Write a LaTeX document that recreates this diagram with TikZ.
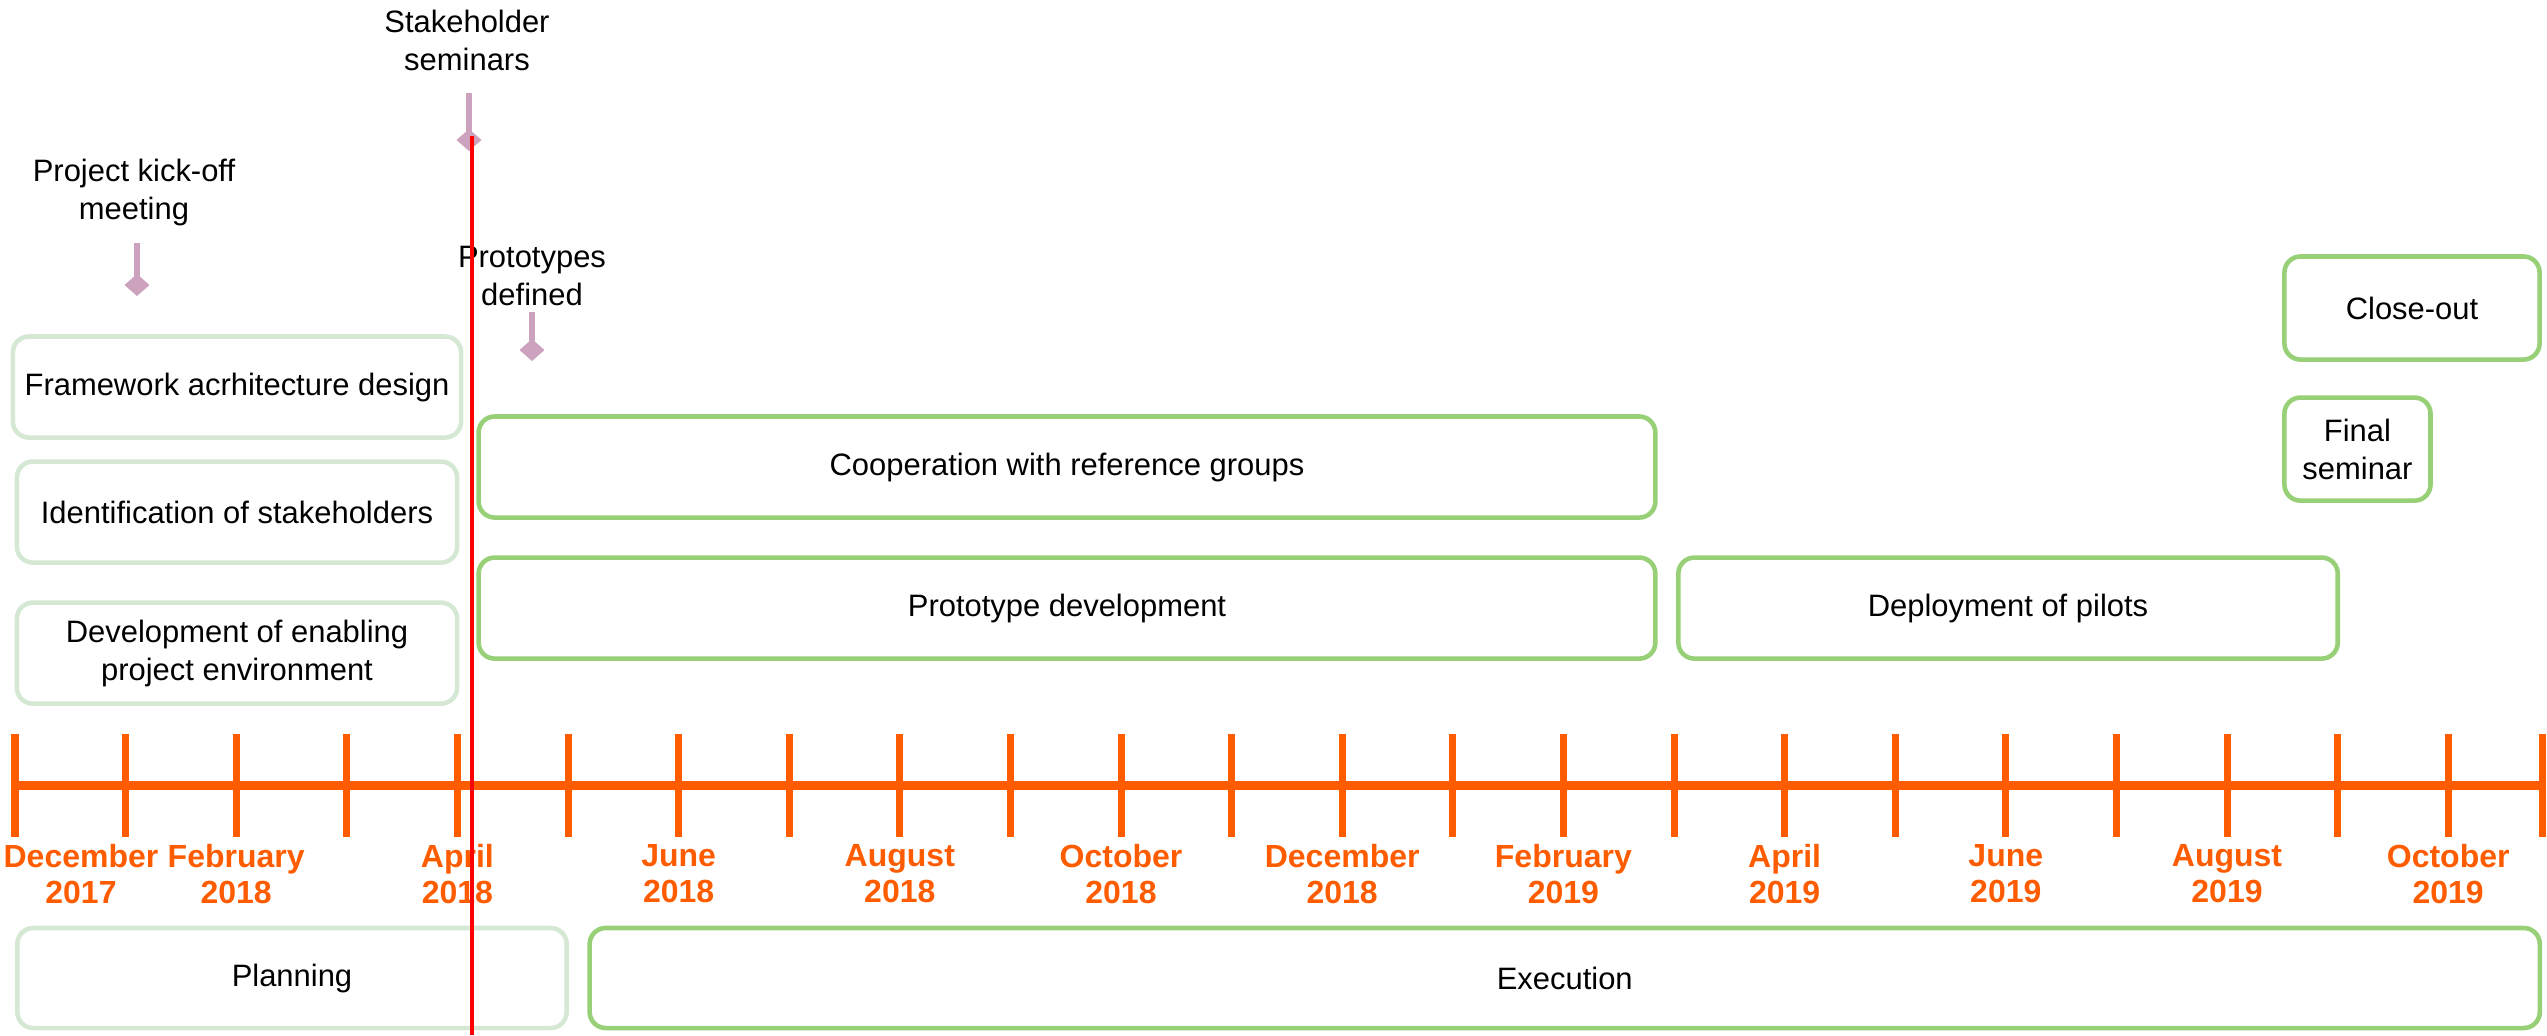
\documentclass[tikz,border=0pt]{standalone}
\usepackage{fontspec}
\setmainfont{Liberation Sans}
\usetikzlibrary{arrows.meta,positioning}
\definecolor{tlorange}{HTML}{FF5C00}
\definecolor{lightgreen}{HTML}{D5E8D4}
\definecolor{midgreen}{HTML}{97D077}
\definecolor{mauve}{HTML}{CDA2BE}

\begin{document}
\begin{tikzpicture}[x=0.01cm,y=-0.01cm,
    every node/.style={outer sep=0pt,font=\fontsize{8.8}{10.8}\selectfont},
    plan/.style={draw=lightgreen,line width=1.3pt,rounded corners=0.16cm,
    minimum height=1.01cm,align=center},
    exec/.style={plan,draw=midgreen},
    stem/.style={mauve,line width=1.7pt,-{Diamond[length=0.22cm,width=0.25cm]}},
    axis/.style={tlorange,line width=0.09cm},
    month/.style={tlorange,align=center,
    font=\bfseries\fontsize{9.1}{10.3}\selectfont}]
    \useasboundingbox (0,0) rectangle (2547,1035);

     % planning tasks
     \node[plan,minimum width=4.38cm] (fw) at (237,387) {Framework acrhitecture design};
     \node[plan,minimum width=4.40cm,below=0.24cm of fw] (id) {Identification of stakeholders};
     \node[plan,minimum width=4.40cm,below=0.4cm of id] (env) {Development of enabling\\project environment};

     % execution tasks
     \node[exec,minimum width=11.76cm] (coop) at (1067,467) {Cooperation with reference groups};
     \node[exec,minimum width=11.76cm,below=0.4cm of coop] (proto) {Prototype development};
     \node[exec,minimum width=6.59cm,right=0.23cm of proto] (pilot) {Deployment of pilots};
     \node[exec,minimum width=2.55cm,minimum height=1.03cm] (close) at (2412,308) {Close-out};
     \node[exec,minimum width=1.46cm,minimum height=1.03cm,
     below right=0.38cm and 0cm of close.south west] (final) {Final\\seminar};

     % phases
     \node[plan,minimum width=5.49cm,minimum height=1.0cm] (planning) at (292,978) {Planning};
     \node[exec,minimum width=19.49cm,minimum height=1.0cm,right=0.23cm of planning] (execution) {Execution};

     % time axis
     \coordinate (t0) at (15,785);
     \coordinate (tend) at (2542,785);
     \draw[axis] (t0) -- (tend);
     \foreach \k in {0,...,22}
     {
        \draw[axis,line width=0.07cm] ({15+110.6*\k},734) -- ({15+110.6*\k},837);
     }
     \draw[axis,line width=0.07cm] (2542,734) -- (2542,837);
     \node[month] (m0) at (81,874) {December\\2017};
     \foreach \k/\M/\Y in {2/February/2018,4/April/2018,6/June/2018,8/August/2018,
     10/October/2018,12/December/2018,14/February/2019,16/April/2019,
     18/June/2019,20/August/2019,22/October/2019}
     {
        \node[month] (m\k) at ({15+110.6*\k},874) {\M\\\Y};
     }

     % milestones
     \node[align=center] (kickoff) at (134,192) {Project kick-off\\meeting};
     \node[align=center] (seminars) at (467,40) {Stakeholder\\seminars};
     \node[align=center] (defined) at (532,276) {Prototypes\\defined};
     \coordinate (kickoff top) at (137,243);
     \coordinate (kickoff tip) at (137,296);
     \coordinate (seminars top) at (469,93);
     \coordinate (seminars tip) at (469,151);
     \coordinate (defined top) at (532,312);
     \coordinate (defined tip) at (532,361);
     \draw[stem] (kickoff top) -- (kickoff tip);
     \draw[stem] (seminars top) -- (seminars tip);
     \draw[stem] (defined top) -- (defined tip);

     % today
     \coordinate (now top) at (472,136);
     \coordinate (now bot) at (472,1035);
     \draw[red,line width=0.04cm] (now top) -- (now bot);
\end{tikzpicture}
\end{document}
